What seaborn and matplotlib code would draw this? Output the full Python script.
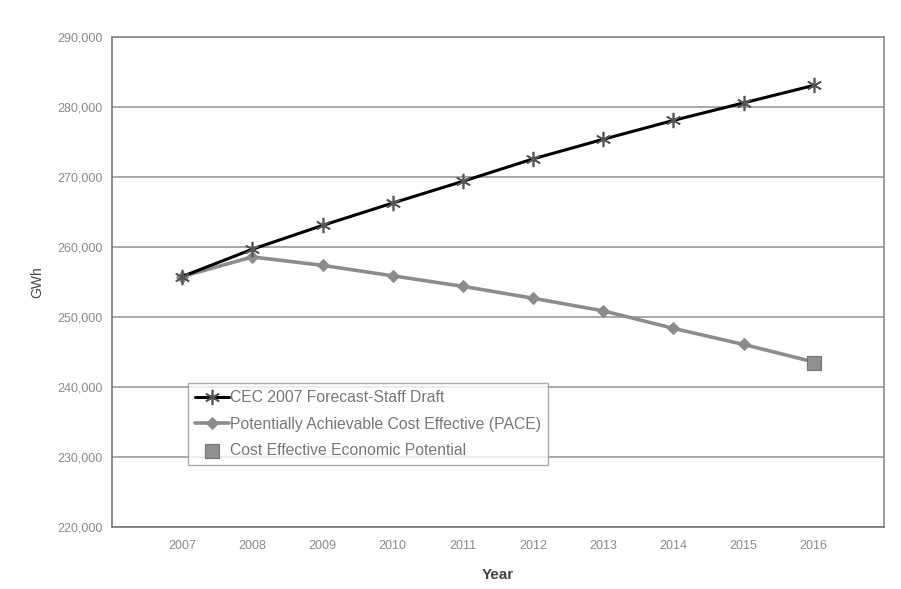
import numpy as np
import pandas as pd
import seaborn as sns
import matplotlib.pyplot as plt

years = [2007, 2008, 2009, 2010, 2011, 2012, 2013, 2014, 2015, 2016]
cec_forecast = [255800, 259700, 263100, 266300, 269400, 272600, 275400, 278100, 280600, 283100]
pace = [255800, 258600, 257400, 255900, 254400, 252700, 250900, 248400, 246100, 243600]
econ_year = [2016]
econ_potential = [243400]

y_ticks = [220000, 230000, 240000, 250000, 260000, 270000, 280000, 290000]

sns.set_style("white")
plt.rcParams["font.family"] = ["Liberation Sans", "DejaVu Sans"]

fig = plt.figure(figsize=(9.01, 5.89), dpi=100)
ax = fig.add_axes([0.1243, 0.105, 0.8567, 0.832])

df_cec = pd.DataFrame({"Year": years, "GWh": cec_forecast})
df_pace = pd.DataFrame({"Year": years, "GWh": pace})

sns.lineplot(data=df_cec, x="Year", y="GWh", ax=ax, color="black", linewidth=2.2,
             marker=(6, 2, 0), markersize=11, markeredgewidth=1.2, markeredgecolor="#555555",
             label="CEC 2007 Forecast-Staff Draft", zorder=4)
sns.lineplot(data=df_pace, x="Year", y="GWh", ax=ax, color="#8c8c8c", linewidth=2.6,
             marker="D", markersize=6, markeredgecolor="#8c8c8c",
             label="Potentially Achievable Cost Effective (PACE)", zorder=3)
sns.scatterplot(x=econ_year, y=econ_potential, ax=ax, color="#909090", marker="s", s=110,
                edgecolor="#777777", label="Cost Effective Economic Potential", zorder=5)

ax.set_xlim(2006, 2017)
ax.set_ylim(220000, 290000)
ax.set_xticks(years)
ax.set_xticklabels([str(y) for y in years])
ax.set_yticks(y_ticks)
ax.set_yticklabels([f"{v:,}" for v in y_ticks])
ax.tick_params(axis="both", labelsize=9, colors="#8a8a8a", length=0)
ax.tick_params(axis="y", pad=7)
ax.tick_params(axis="x", pad=9)
ax.grid(axis="y", color="#a0a0a0", linewidth=1.3)
ax.set_axisbelow(True)
for side, sp in ax.spines.items():
    sp.set_color("#8a8a8a")
    sp.set_linewidth(1.2)
ax.spines["left"].set_color("#777777")
ax.spines["bottom"].set_color("#777777")

ax.set_xlabel("Year", fontsize=11, color="#444444", fontweight="bold", labelpad=12)
ax.set_ylabel("GWh", fontsize=10, color="#444444", labelpad=9)

leg = ax.legend(loc="lower left", bbox_to_anchor=(0.088, 0.111), fontsize=11.3,
                frameon=True, fancybox=False, edgecolor="#999999", handlelength=2.2,
                handletextpad=0.05, borderpad=0.45, labelspacing=0.72)
for t in leg.get_texts():
    t.set_color("#777777")

fig.savefig("out.png", dpi=100)
